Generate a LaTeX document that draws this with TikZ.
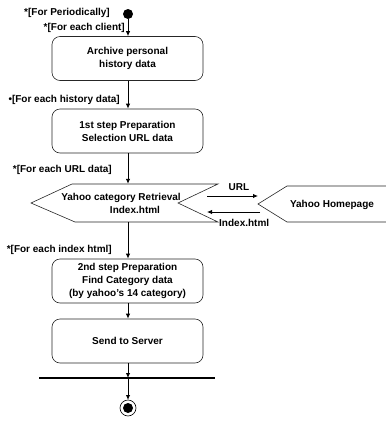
\documentclass[tikz,border=0pt]{standalone}
\usepackage{fontspec}
\setmainfont{Liberation Sans}
\usetikzlibrary{arrows.meta,calc}
\begin{document}
\begin{tikzpicture}[x=1pt,y=-1pt,
  font=\bfseries\fontsize{10}{13}\selectfont,
  activity/.style={draw=black!85,line width=0.6pt,rounded corners=8pt,
    minimum width=151pt,minimum height=44pt,align=center,inner sep=0pt},
  guard/.style={anchor=east,inner sep=0pt},
  flow/.style={-{Latex[length=5pt,width=4.5pt]},line width=0.9pt},
  edge/.style={draw=black!85,line width=0.6pt}]
\useasboundingbox (0,0) rectangle (386,421);

% initial node and its guards
\fill (128,14) circle (5pt);
\coordinate (start) at (128,19);
\node[guard] (g1) at (110,13) {*[For Periodically]};
\node[guard] (g2) at (125,28) {*[For each client]};

% activities
\node[activity] (archive) at (127.5,58.5) {Archive personal\\history data};
\node[guard] (g3) at (120,100) {\textbullet[For each history data]};
\node[activity] (prep1) at (127.5,131) {1st step Preparation\\Selection URL data};
\node[guard] (g4) at (112,170) {*[For each URL data]};

% signal node: Yahoo category retrieval
\node[minimum width=187pt,minimum height=38pt,inner sep=0pt] (retr) at (124.5,203) {};
\draw[edge] (31,203) -- (72,184) -- (218,184) -- (178,203) -- (218,222) -- (75,222) -- cycle;
\node[align=center,inner sep=0pt] (retrtext) at (121,203.5) {Yahoo category Retrieval\\\hspace*{28pt}Index.html};

% external node: Yahoo Homepage
\node[minimum width=120pt,minimum height=36pt,inner sep=0pt] (yahoo) at (326,204) {};
\draw[edge] (390,186) -- (287,186) -- (258,204) -- (287,222) -- (390,222);
\node[inner sep=0pt] (yahootext) at (332,205) {Yahoo Homepage};

% request / reply between the two
\coordinate (reqA) at (207,196);
\coordinate (reqB) at (258,196);
\coordinate (repA) at (260,212);
\coordinate (repB) at (207,212);
\draw[flow] (reqA) -- (reqB);
\draw[flow] (repA) -- (repB);
\node[inner sep=0pt] (urllbl) at (239,187) {URL};
\node[inner sep=0pt,anchor=west] (idxlbl) at (219,223) {Index.html};

\node[guard] (g5) at (112,250) {*[For each index html]};
\node[activity] (prep2) at (127.5,281) {2nd step Preparation\\Find Category data\\(by yahoo's 14 category)};
\node[activity] (send) at (127.5,341) {Send to Server};

% join bar and final node
\coordinate (barL) at (39,378);
\coordinate (barR) at (215,378);
\draw[line width=2pt] (barL) -- (barR);
\coordinate (bar) at (128,378);
\draw[line width=0.6pt] (128,408) circle (8pt);
\fill (128,408) circle (5pt);
\coordinate (final) at (128,400);

% control flow
\draw[flow] (start) -- (archive.north -| start);
\draw[flow] (archive.south -| start) -- (prep1.north -| start);
\draw[flow] (prep1.south -| start) -- (retr.north -| start);
\draw[flow] (retr.south -| start) -- (prep2.north -| start);
\draw[flow] (prep2.south -| start) -- (send.north -| start);
\draw[flow] (send.south -| start) -- (bar);
\draw[flow] (bar) -- (final);
\end{tikzpicture}
\end{document}
